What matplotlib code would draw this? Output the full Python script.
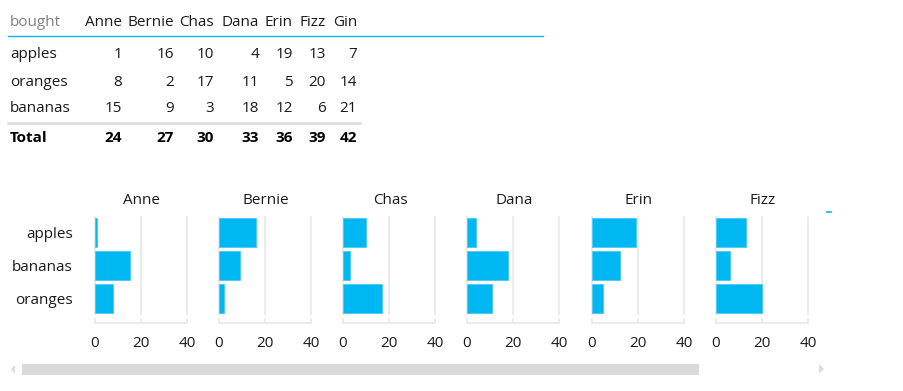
import numpy as np
import matplotlib
matplotlib.use('Agg')
import matplotlib.pyplot as plt
from matplotlib.patches import Rectangle, Polygon

plt.rcParams['font.family'] = ['Open Sans', 'DejaVu Sans']

# data
PEOPLE = ['Anne', 'Bernie', 'Chas', 'Dana', 'Erin', 'Fizz', 'Gin']
FRUITS = ['apples', 'oranges', 'bananas']
apples = [1, 16, 10, 4, 19, 13, 7]
oranges = [8, 2, 17, 11, 5, 20, 14]
bananas = [15, 9, 3, 18, 12, 6, 21]
TOTALS = [24, 27, 30, 33, 36, 39, 42]
BAR_ORDER = ['apples', 'bananas', 'oranges']
XTICKS = [0, 20, 40]

W, H = 904, 391
BLUE = '#00B8F1'
GRID = '#e8e8e8'
TXT = '#1a1a1a'

fig = plt.figure(figsize=(W / 100, H / 100), dpi=100)


def px(x, y):
    return x / W, 1 - y / H


def axes_px(x0, y0, w, h):
    return fig.add_axes([x0 / W, 1 - (y0 + h) / H, w / W, h / H])


# ---- table ----
fs = 11
col_right = [121, 173, 213, 258, 292, 325, 356]
row_y = [54, 82, 109]
fig.text(*px(10, 23), 'bought', color='#808080', fontsize=fs, va='center', ha='left')
for i, p in enumerate(PEOPLE):
    fig.text(*px(col_right[i] + 1, 23), p, color=TXT, fontsize=fs, va='center', ha='right')
values = {'apples': apples, 'oranges': oranges, 'bananas': bananas}
for r, f in enumerate(FRUITS):
    fig.text(*px(10, row_y[r]), f, color=TXT, fontsize=fs, va='center', ha='left')
    for i, v in enumerate(values[f]):
        fig.text(*px(col_right[i] + 1, row_y[r]), str(v), color=TXT, fontsize=fs, va='center', ha='right')
fig.text(*px(10, 138), 'Total', color='black', fontsize=fs, fontweight='bold', va='center', ha='left')
for i, v in enumerate(TOTALS):
    fig.text(*px(col_right[i] + 1, 138), str(v), color='black', fontsize=fs, fontweight='bold', va='center', ha='right')

fig.add_artist(plt.Line2D([8 / W, 543 / W], [1 - 36 / H] * 2, color=BLUE, lw=1.0))
fig.add_artist(plt.Line2D([8 / W, 360 / W], [1 - 123 / H] * 2, color='#dcdcdc', lw=1.8))

# ---- small multiples ----
panel_x0 = [95, 219, 343, 467, 592, 716]
for k, x0 in enumerate(panel_x0):
    ax = axes_px(x0, 217, 92, 97)
    vals = [values[f][k] for f in BAR_ORDER]
    ax.barh(range(3), vals, height=0.85, color=BLUE, edgecolor='#4cc9f3', lw=0.6, zorder=2)
    ax.set_xlim(0, 40)
    ax.set_ylim(2.47, -0.47)
    for t in XTICKS:
        ax.axvline(t, color=GRID, lw=1.2, zorder=1, clip_on=False)
    for s in ['top', 'right', 'left']:
        ax.spines[s].set_visible(False)
    ax.spines['bottom'].set_position(('outward', 6.5))
    ax.spines['bottom'].set_color(GRID)
    ax.spines['bottom'].set_linewidth(1.2)
    ax.set_xticks(XTICKS)
    ax.tick_params(axis='x', direction='in', length=3.5, width=1.2, color=GRID,
                   labelsize=fs, labelcolor=TXT, pad=9.5)
    if k == 0:
        ax.set_yticks(range(3))
        ax.set_yticklabels(BAR_ORDER, fontsize=fs, color=TXT)
        ax.tick_params(axis='y', length=0, pad=16)
    else:
        ax.set_yticks([])
    ax.set_facecolor('none')
    fig.text(*px(x0 + 47, 200), PEOPLE[k], color=TXT, fontsize=fs, ha='center', va='center')

# clipped edge of the next panel
fig.add_artist(plt.Line2D([827 / W, 831 / W], [1 - 212 / H] * 2, color=BLUE, lw=1.2))

# ---- scrollbar ----
x, y = px(22, 375)
fig.add_artist(Rectangle((x, y), (699 - 22) / W, 11 / H, transform=fig.transFigure,
                         facecolor='#dadada', edgecolor='none'))
fig.add_artist(Polygon([px(11, 369), px(15, 365), px(15, 374)], closed=True,
                       transform=fig.transFigure, facecolor='#dcdcdc', edgecolor='none'))
fig.add_artist(Polygon([px(824, 369), px(819, 364), px(819, 374)], closed=True,
                       transform=fig.transFigure, facecolor='#dcdcdc', edgecolor='none'))

fig.savefig('out.png', dpi=100)
